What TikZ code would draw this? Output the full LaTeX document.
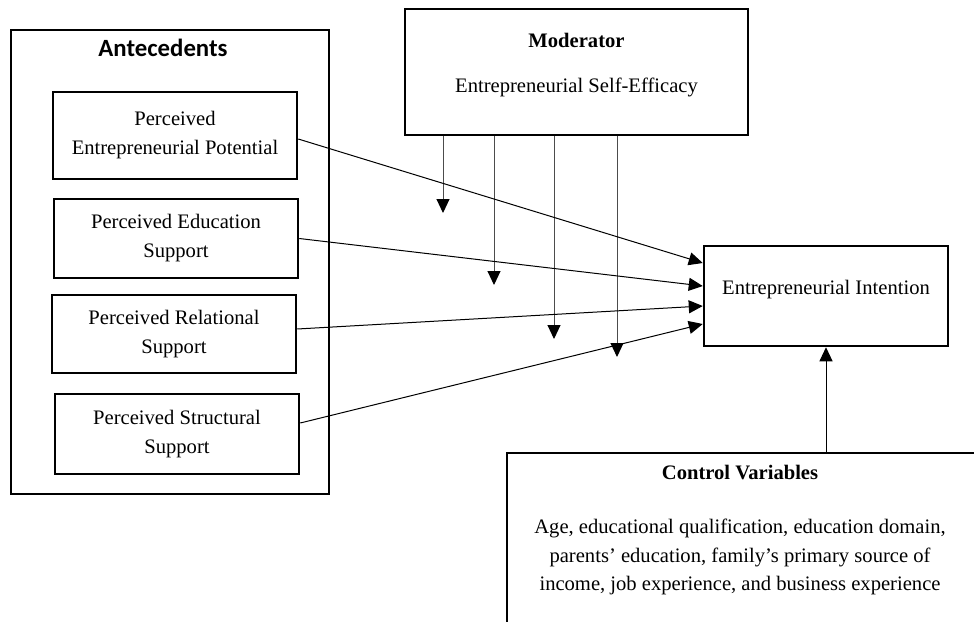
\documentclass[tikz,border=0pt]{standalone}
\usepackage{fontspec}
\setmainfont{Liberation Serif}
\newfontfamily\headfont{Carlito}
\usetikzlibrary{arrows.meta,positioning}
\begin{document}
\begin{tikzpicture}[x=0.5pt,y=-0.5pt,
        box/.style={rectangle, draw=black, line width=1.25pt, align=center, inner sep=0pt, font=\fontsize{10.3}{14.5}\selectfont},
        label/.style={inner sep=0pt, align=center, font=\fontsize{10.3}{14.2}\selectfont},
        link/.style={line width=0.5pt, -{Triangle[length=7pt,width=6.5pt]}},
        modlink/.style={line width=0.5pt, draw=black!70, -{Triangle[length=7pt,width=6.5pt,black]}}]
    \useasboundingbox (0,0) rectangle (974,621);
    \clip (0,0) rectangle (974,621);
    % antecedents
    \node [box, minimum width=159pt, minimum height=232pt] (ante) at (170,262) {};
    \node [inner sep=0pt, font=\headfont\bfseries\fontsize{12.4}{14}\selectfont] (antetitle) at (163,48) {Antecedents};
    \node [box, minimum width=122pt, minimum height=43.5pt] (pep) at (175,135.5) {Perceived\\Entrepreneurial Potential};
    \node [box, minimum width=122pt, minimum height=39.5pt] (pes) at (176,238.5) {Perceived Education\\Support};
    \node [box, minimum width=122pt, minimum height=39pt] (prs) at (174,334) {Perceived Relational\\Support};
    \node [box, minimum width=122pt, minimum height=40pt] (pss) at (177,434) {Perceived Structural\\Support};
    % moderator
    \node [box, minimum width=171.5pt, minimum height=63pt] (mod) at (576.5,72) {};
    \node [label, font=\bfseries\fontsize{10.3}{12}\selectfont] (modtitle) at (576.5,40) {Moderator};
    \node [label] (modtext) at (576.5,87) {Entrepreneurial Self-Efficacy};
    % outcome
    \node [box, minimum width=122pt, minimum height=50pt, text depth=9pt] (ei) at (826,296) {Entrepreneurial Intention};
    % controls
    \node [box, minimum width=234pt, minimum height=103.5pt] (ctrl) at (741,556.5) {};
    \node [label, font=\bfseries\fontsize{10.3}{12}\selectfont] (ctrltitle) at (740,473) {Control Variables};
    \node [label] (ctrltext) at (740,557) {Age, educational qualification, education domain,\\parents’ education, family’s primary source of\\income, job experience, and business experience};
    % free ends of the moderating arrows
    \coordinate (m1) at (443,213);
    \coordinate (m2) at (494,285);
    \coordinate (m3) at (554,339);
    \coordinate (m4) at (617,357);
    \foreach \m in {m1,m2,m3,m4}
        \draw [modlink] (mod.south -| \m) -- (\m);
    % direct effects
    \draw [link] ([yshift=-1.75pt]pep.east) -- ([yshift=16.5pt]ei.west);
    \draw [link] (pes.east) -- ([yshift=5pt]ei.west);
    \draw [link] ([yshift=2.5pt]prs.east) -- ([yshift=-5pt]ei.west);
    \draw [link] ([yshift=5.5pt]pss.east) -- ([yshift=-14pt]ei.west);
    \draw [link] (ctrl.north -| ei.south) -- (ei.south);
\end{tikzpicture}
\end{document}
